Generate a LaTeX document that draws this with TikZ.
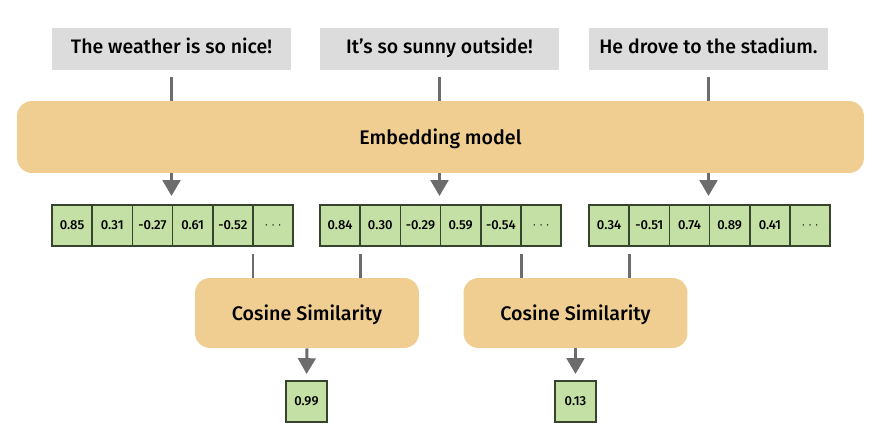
\documentclass[tikz,border=0pt]{standalone}
\usepackage{fontspec}
\setmainfont{Fira Sans Medium}
\usetikzlibrary{arrows.meta,positioning}
\definecolor{SentGray}{RGB}{220,220,220}
\definecolor{ModelTan}{RGB}{240,206,145}
\definecolor{VecGreen}{RGB}{197,224,165}
\definecolor{VecEdge}{RGB}{55,68,45}
\definecolor{LinkGray}{RGB}{108,108,108}

\begin{document}
\begin{tikzpicture}[x=0.02cm, y=-0.02cm,
	sentence/.style={fill=SentGray, minimum width=4.78cm, minimum height=0.84cm, inner sep=0, text height=0.72em, text depth=0.22em, font=\fontsize{11.1}{13}\selectfont},
	model/.style={fill=ModelTan, rounded corners=0.3cm, inner sep=0, text height=0.85em, text depth=0pt, font=\fontsize{11.2}{13}\selectfont},
	cell/.style={draw=VecEdge, line width=0.9pt, fill=VecGreen, minimum width=0.804cm, minimum height=0.82cm, inner sep=0, outer sep=0, font=\fontsize{7.4}{8}\selectfont},
	link/.style={draw=LinkGray, line width=1.7pt},
	flow/.style={link, -{Triangle[width=10pt,length=9pt]}}]
	\useasboundingbox (0,0) rectangle (884,438);
	% sentences
	\node[sentence] (s1) at (171.5,49) {The weather is so nice!};
	\node[sentence] (s2) at (439.5,49) {It’s so sunny outside!};
	\node[sentence] (s3) at (708.5,49) {He drove to the stadium.};
	% embedding model
	\node[model, minimum width=16.94cm, minimum height=1.44cm] (emb) at (440.5,137) {Embedding model};
	% vectors
	\foreach \v [count=\i] in {0.85,0.31,-0.27,0.61,-0.52,$\cdots$}
		\node[cell] (a\i) at ({52+40.2*(\i-0.5)},225.5) {\v};
	\foreach \v [count=\i] in {0.84,0.30,-0.29,0.59,-0.54,$\cdots$}
		\node[cell] (b\i) at ({320+40.2*(\i-0.5)},225.5) {\v};
	\foreach \v [count=\i] in {0.34,-0.51,0.74,0.89,0.41,$\cdots$}
		\node[cell] (d\i) at ({589+40.2*(\i-0.5)},225.5) {\v};
	% similarity
	\node[model, minimum width=4.48cm, minimum height=1.4cm] (c1) at (307,313) {Cosine Similarity};
	\node[model, minimum width=4.48cm, minimum height=1.4cm] (c2) at (575.5,313) {Cosine Similarity};
	\node[cell, minimum width=0.82cm] (r1) at (306.5,401.5) {0.99};
	\node[cell, minimum width=0.82cm] (r2) at (575.5,401.5) {0.13};
	% connectors
	\foreach \s/\v in {s1/a1, s2/b1, s3/d1} {
		\draw[link, shorten <=0.14cm] (\s.south) -- (\s.south |- emb.north);
		\draw[flow, shorten >=0.18cm] (\s.south |- emb.south) -- (\s.south |- \v.north);
	}
	\foreach \v/\c in {a5/c1, b1/c1, b5/c2, d1/c2}
		\draw[link, shorten <=0.16cm] (\v.south east) -- (\v.south east |- \c.north);
	\draw[flow, shorten >=0.14cm] (c1.south) -- (r1.north);
	\draw[flow, shorten >=0.14cm] (c2.south) -- (r2.north);
\end{tikzpicture}
\end{document}
